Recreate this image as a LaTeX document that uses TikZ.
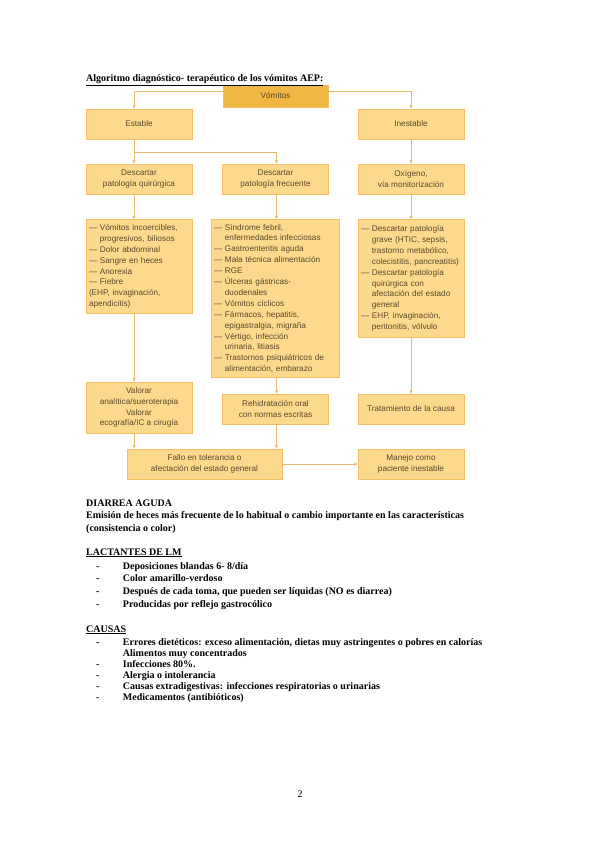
\documentclass[tikz,border=0pt]{standalone}
\usepackage{fontspec}
\setmainfont{Liberation Serif}
\newfontfamily\cajafont{Liberation Sans}
\definecolor{CajaNaranja}{RGB}{253,217,142}
\definecolor{BordeNaranja}{RGB}{241,192,100}
\definecolor{VomitosOcre}{RGB}{241,182,68}
\definecolor{LineaNaranja}{RGB}{232,186,112}
\definecolor{TextoCaja}{RGB}{92,72,42}
\usetikzlibrary{arrows.meta, positioning, calc}
\newcommand{\sangria}{\hphantom{— }}

\begin{document}
\begin{tikzpicture}[x=1pt, y=-1pt, font=\cajafont\fontsize{8.2}{10.9}\selectfont,
	caja/.style={draw=BordeNaranja, fill=CajaNaranja, line width=0.8pt,
		text=TextoCaja, minimum width=106pt, minimum height=30pt,
		align=center, inner sep=2pt},
	lista/.style={caja, anchor=north, align=left, inner sep=3pt},
	flecha/.style={draw=LineaNaranja, line width=0.8pt,
		-{Triangle[length=3.2pt, width=3pt]}},
	texto/.style={anchor=base west, inner sep=0pt,
		font=\rmfamily\bfseries\fontsize{10}{11}\selectfont}]
	\useasboundingbox (0,0) rectangle (599,848);

	% algoritmo de los vomitos
	\node[caja, fill=VomitosOcre, minimum width=105pt, minimum height=22pt]
		(vomitos) at (275.5,96) {Vómitos};
	\node[caja] (estable)   at (139,124)   {Estable};
	\node[caja] (inestable) at (411,124)   {Inestable};
	\node[caja] (quir)      at (139,179)   {Descartar\\patología quirúrgica};
	\node[caja] (frec)      at (275.5,179) {Descartar\\patología frecuente};
	\node[caja] (oxig)      at (411,179)   {Oxígeno,\\vía monitorización};

	\node[lista, text width=100pt, minimum height=94pt] (lista1) at (139,219)
		{— Vómitos incoercibles,\\ \sangria progresivos, biliosos\\
		 — Dolor abdominal\\ — Sangre en heces\\ — Anorexia\\ — Fiebre\\
		 (EHP, invaginación,\\ apendicitis)};
	\node[lista, text width=122pt, minimum height=158pt] (lista2) at (275,219)
		{— Síndrome febril,\\ \sangria enfermedades infecciosas\\
		 — Gastroenteritis aguda\\ — Mala técnica alimentación\\ — RGE\\
		 — Úlceras gástricas-\\ \sangria duodenales\\ — Vómitos cíclicos\\
		 — Fármacos, hepatitis,\\ \sangria epigastralgia, migraña\\
		 — Vértigo, infección\\ \sangria urinaria, litiasis\\
		 — Trastornos psiquiátricos de\\ \sangria alimentación, embarazo};
	\node[lista, text width=100pt, minimum height=118pt] (lista3) at (411,219)
		{— Descartar patología\\ \sangria grave (HTIC, sepsis,\\
		 \sangria trastorno metabólico,\\ \sangria colecistitis, pancreatitis)\\
		 — Descartar patología\\ \sangria quirúrgica con\\
		 \sangria afectación del estado\\ \sangria general\\
		 — EHP, invaginación,\\ \sangria peritonitis, vólvulo};

	\node[caja, minimum height=51pt] (valorar) at (139,407.5)
		{Valorar\\analítica/sueroterapia\\Valorar\\ecografía/IC a cirugía};
	\node[caja] (rehid)  at (275.5,409) {Rehidratación oral\\con normas escritas};
	\node[caja] (trat)   at (411,409)   {Tratamiento de la causa};
	\node[caja, minimum width=155pt] (fallo) at (204.5,464)
		{Fallo en tolerancia o\\afectación del estado general};
	\node[caja] (manejo) at (411,464)   {Manejo como\\paciente inestable};

	% conectores
	\draw[flecha] ([yshift=5pt]vomitos.west) -| ([xshift=-5pt]estable.north);
	\draw[flecha] ([yshift=5pt]vomitos.east) -| (inestable.north);
	\draw[flecha] ([xshift=-5pt]estable.south) -- ([xshift=-5pt]quir.north);
	\coordinate (ramal) at ([xshift=-5pt,yshift=-13pt]estable.south);
	\draw[flecha] (ramal) -| ([xshift=1pt]frec.north);
	\draw[flecha] (inestable) -- (oxig);
	\draw[flecha] ([xshift=-5pt]quir.south) -- ([xshift=-5pt]lista1.north);
	\draw[flecha] ([xshift=1pt]frec.south) -- ([xshift=1.5pt]lista2.north);
	\draw[flecha] (oxig) -- (lista3);
	\draw[flecha] ([xshift=-5pt]lista1.south) -- ([xshift=-5pt]valorar.north);
	\draw[flecha] ([xshift=1.5pt]lista2.south) -- ([xshift=1pt]rehid.north);
	\draw[flecha] (lista3) -- (trat);
	\draw[flecha] ([xshift=-5pt]valorar.south) -- ([xshift=-5pt]valorar.south |- fallo.north);
	\draw[flecha] ([xshift=1pt]rehid.south) -- ([xshift=1pt]rehid.south |- fallo.north);
	\draw[flecha] (fallo) -- (manejo);

	% texto de la pagina
	\node[texto] (titulo) at (86,82)
		{\underline{Algoritmo diagnóstico- terapéutico de los vómitos AEP:}};
	\node[texto] (diarrea) at (86,506) {DIARREA AGUDA};
	\node[texto] (def1) at (86,518.5) {Emisión de heces más frecuente de lo habitual
		o cambio importante en las características};
	\node[texto] (def2) at (86,531) {(consistencia o color)};
	\node[texto] (lactantes) at (86,555) {\underline{LACTANTES DE LM}};
	\foreach \t [count=\i from 0] in {Deposiciones blandas 6- 8/día,
		Color amarillo-verdoso,
		{Después de cada toma, que pueden ser líquidas (NO es diarrea)},
		Producidas por reflejo gastrocólico}{
		\node[texto] (guionL\i) at (96,569+12.7*\i) {-};
		\node[texto] (lact\i) at (122.7,569+12.7*\i) {\t};
	}
	\node[texto] (causas) at (86,632) {\underline{CAUSAS}};
	\foreach \g/\t [count=\i from 0] in {-/{Errores dietéticos: exceso alimentación, dietas muy astringentes o pobres en calorías},
		/Alimentos muy concentrados,
		-/Infecciones 80\%.,
		-/Alergia o intolerancia,
		-/Causas extradigestivas: infecciones respiratorias o urinarias,
		-/Medicamentos (antibióticos)}{
		\node[texto] (guionC\i) at (96,645.5+11*\i) {\g};
		\node[texto] (causa\i) at (122.7,645.5+11*\i) {\t};
	}
	\node[texto, anchor=base, font=\rmfamily\fontsize{10}{11}\selectfont]
		(pagina) at (300,797) {2};
\end{tikzpicture}
\end{document}
